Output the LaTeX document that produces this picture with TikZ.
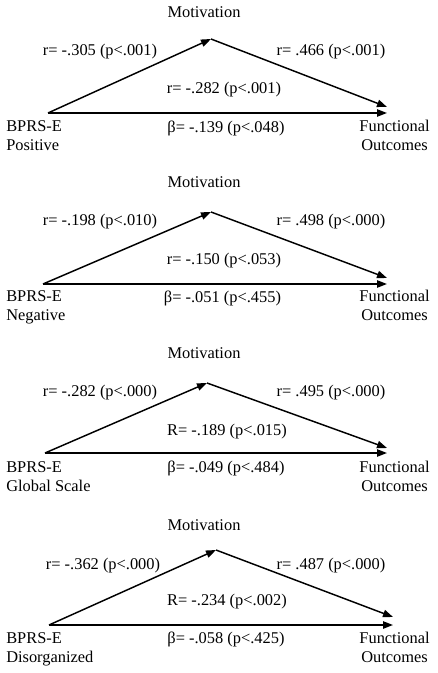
\documentclass[tikz,border=0pt]{standalone}
\usepackage{fontspec}
\setmainfont{Liberation Serif}
\usetikzlibrary{arrows.meta}
\tikzset{
  lbl/.style={inner sep=0pt, anchor=base, font=\fontsize{12.3}{14.2}\selectfont},
  lblw/.style={lbl, anchor=base west},
  arr/.style={line width=1.1pt, -{Triangle[length=7.5pt,width=5.5pt]}}
}
\begin{document}
\begin{tikzpicture}[x=0.75pt,y=-0.75pt]
\useasboundingbox (0,0) rectangle (437,673);
% ---------- Panel 1 ----------
\coordinate (s1) at (48,113);
\coordinate (m1) at (211,39);
\coordinate (d1) at (387,107);
\coordinate (e1) at (387,113);
\draw[arr] (s1) -- (m1);
\draw[arr] (m1) -- (d1);
\draw[arr] (s1) -- (e1);
\node[lbl] (mot1) at (204,18) {Motivation};
\node[lbl] (a1) at (100,56) {r= -.305 (p<.001)};
\node[lbl] (b1) at (331,56) {r= .466 (p<.001)};
\node[lbl] (c1) at (224,94) {r= -.282 (p<.001)};
\node[lbl] (beta1) at (226,133) {β= -.139 (p<.048)};
\node[lblw] (x1a) at (6,132) {BPRS-E};
\node[lblw] (x1b) at (6,151) {Positive};
\node[lbl] (y1a) at (394.5,132) {Functional};
\node[lbl] (y1b) at (394.5,151) {Outcomes};
% ---------- Panel 2 ----------
\coordinate (s2) at (43,284);
\coordinate (m2) at (211,212);
\coordinate (d2) at (387,278);
\coordinate (e2) at (387,284);
\draw[arr] (s2) -- (m2);
\draw[arr] (m2) -- (d2);
\draw[arr] (s2) -- (e2);
\node[lbl] (mot2) at (204,188) {Motivation};
\node[lbl] (a2) at (100,226) {r= -.198 (p<.010)};
\node[lbl] (b2) at (331,226) {r= .498 (p<.000)};
\node[lbl] (c2) at (224,264) {r= -.150 (p<.053)};
\node[lbl] (beta2) at (222.5,302) {β= -.051 (p<.455)};
\node[lblw] (x2a) at (6,301) {BPRS-E};
\node[lblw] (x2b) at (6,320) {Negative};
\node[lbl] (y2a) at (394.5,301) {Functional};
\node[lbl] (y2b) at (394.5,320) {Outcomes};
% ---------- Panel 3 ----------
\coordinate (s3) at (45,453);
\coordinate (m3) at (207,383);
\coordinate (d3) at (387,448);
\coordinate (e3) at (387,453);
\draw[arr] (s3) -- (m3);
\draw[arr] (m3) -- (d3);
\draw[arr] (s3) -- (e3);
\node[lbl] (mot3) at (204,358) {Motivation};
\node[lbl] (a3) at (100,396) {r= -.282 (p<.000)};
\node[lbl] (b3) at (331,396) {r= .495 (p<.000)};
\node[lbl] (c3) at (227,435) {R= -.189 (p<.015)};
\node[lbl] (beta3) at (226,472) {β= -.049 (p<.484)};
\node[lblw] (x3a) at (6,472) {BPRS-E};
\node[lblw] (x3b) at (6,491) {Global Scale};
\node[lbl] (y3a) at (394.5,472) {Functional};
\node[lbl] (y3b) at (394.5,491) {Outcomes};
% ---------- Panel 4 ----------
\coordinate (s4) at (49,625);
\coordinate (m4) at (216,550);
\coordinate (d4) at (393,617);
\coordinate (e4) at (393,625);
\draw[arr] (s4) -- (m4);
\draw[arr] (m4) -- (d4);
\draw[arr] (s4) -- (e4);
\node[lbl] (mot4) at (204,530) {Motivation};
\node[lbl] (a4) at (103,569) {r= -.362 (p<.000)};
\node[lbl] (b4) at (331,569) {r= .487 (p<.000)};
\node[lbl] (c4) at (227,605) {R= -.234 (p<.002)};
\node[lbl] (beta4) at (226,643) {β= -.058 (p<.425)};
\node[lblw] (x4a) at (6,643) {BPRS-E};
\node[lblw] (x4b) at (6,662) {Disorganized};
\node[lbl] (y4a) at (394.5,643) {Functional};
\node[lbl] (y4b) at (394.5,662) {Outcomes};
\end{tikzpicture}
\end{document}
